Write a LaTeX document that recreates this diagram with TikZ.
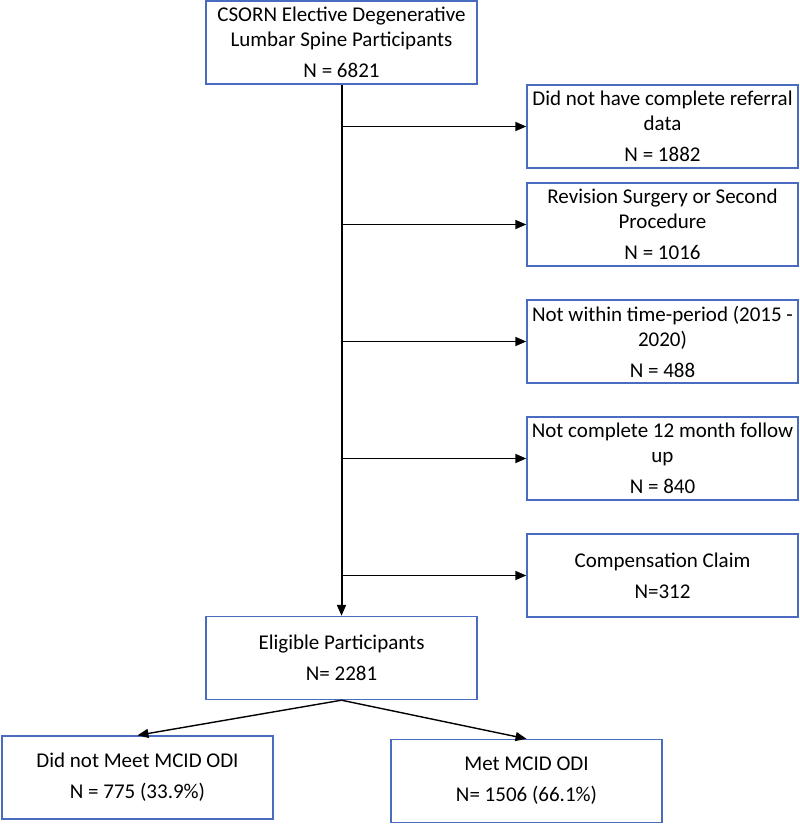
\documentclass[tikz,border=0pt]{standalone}
\usepackage{fontspec}
\setmainfont{Carlito}
\usetikzlibrary{arrows.meta}
\definecolor{boxblue}{HTML}{4A6CC0}
\begin{document}
\begin{tikzpicture}[x=1pt,y=-1pt,
  box/.style={draw=boxblue,line width=1.4pt,rectangle,minimum width=271pt,minimum height=83pt,
    align=center,inner sep=0pt,font=\fontsize{21}{25}\selectfont},
  mainarrow/.style={line width=2pt,-{Triangle[length=11pt,width=9pt]}},
  sidearrow/.style={line width=1.7pt,-{Triangle[length=11pt,width=9pt]}},
  splitarrow/.style={line width=1.4pt,-{Triangle[length=11pt,width=9pt]}}]
\useasboundingbox (0,0) rectangle (800,825);
\node[box] (top) at (341.5,42.5) {CSORN Elective Degenerative\\Lumbar Spine Participants\\[6pt]N = 6821};
\node[box] (r1) at (662.5,126.5) {Did not have complete referral\\data\\[6pt]N = 1882};
\node[box] (r2) at (662.5,224.5) {Revision Surgery or Second\\Procedure\\[6pt]N = 1016};
\node[box] (r3) at (662.5,341.5) {Not within time-period (2015 -\\2020)\\[6pt]N = 488};
\node[box] (r4) at (662.5,458.5) {Not complete 12 month follow\\up\\[6pt]N = 840};
\node[box] (r5) at (662.5,575.5) {Compensation Claim\\[6pt]N=312};
\node[box] (elig) at (341.5,658) {Eligible Participants\\[6pt]N= 2281};
\node[box] (bl) at (137.5,777.5) {Did not Meet MCID ODI\\[6pt]N = 775 (33.9\%)};
\node[box] (br) at (526.5,781) {Met MCID ODI\\[6pt]N= 1506 (66.1\%)};
\draw[mainarrow] (top.south) -- (elig.north);
\foreach \r in {r1,r2,r3,r4,r5}{
  \draw[sidearrow] (top.south |- \r.west) -- (\r.west);
}
\draw[splitarrow] (elig.south) -- (bl.north);
\draw[splitarrow] (elig.south) -- (br.north);
\end{tikzpicture}
\end{document}
